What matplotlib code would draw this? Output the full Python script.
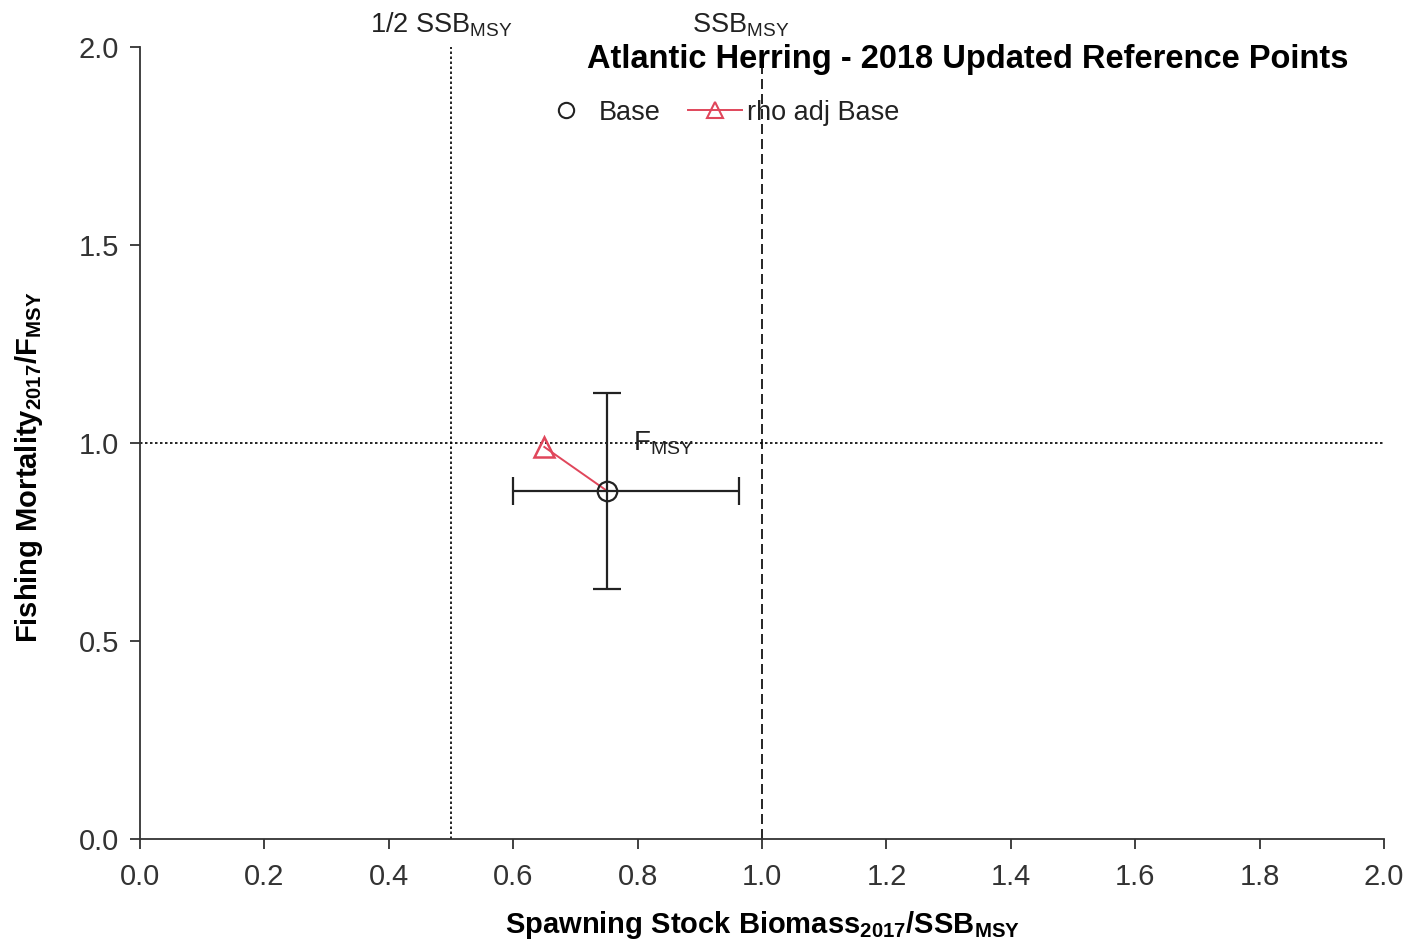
import matplotlib.pyplot as plt

plt.rcParams["font.family"] = ["Liberation Sans", "DejaVu Sans"]

# Base run, 2017 status with error bar extents
base_ssb = [0.75]
base_f = [0.88]
base_ssb_lo = [0.60]
base_ssb_hi = [0.963]
base_f_lo = [0.631]
base_f_hi = [1.126]

# rho adjusted base
rho_ssb = [0.65]
rho_f = [0.99]

ticks = [0.0, 0.2, 0.4, 0.6, 0.8, 1.0, 1.2, 1.4, 1.6, 1.8, 2.0]
yticks = [0.0, 0.5, 1.0, 1.5, 2.0]

RED = "#e0465b"
INK = "#222222"


def main():
    fig = plt.figure(figsize=(14.1, 9.44), dpi=100)
    ax = fig.add_axes([0.0993, 0.1112, 0.8823, 0.839])

    # reference lines
    ax.plot([0.5, 0.5], [0, 2.0], color="black", linestyle=(0, (1.5, 1.5)), lw=1.2)
    ax.plot([1.0, 1.0], [0, 1.97], color="black", linestyle=(0, (6, 3)), lw=1.2)
    ax.plot([0, 2.0], [1.0, 1.0], color="black", linestyle=(0, (1.5, 1.5)), lw=1.2)

    # line from base to rho adj
    ax.plot([base_ssb[0], rho_ssb[0]], [base_f[0], rho_f[0]], color=RED, lw=1.4)

    xerr = [[base_ssb[0] - base_ssb_lo[0]], [base_ssb_hi[0] - base_ssb[0]]]
    yerr = [[base_f[0] - base_f_lo[0]], [base_f_hi[0] - base_f[0]]]
    ax.errorbar(base_ssb, base_f, xerr=xerr, yerr=yerr, fmt="none",
                ecolor=INK, elinewidth=1.6, capsize=10, capthick=1.6)
    ax.plot(base_ssb, base_f, "o", ms=14, mfc="none", mec=INK, mew=1.6)
    ax.plot(rho_ssb, rho_f, "^", ms=15, mfc="none", mec=RED, mew=1.8)

    ax.set_xlim(0, 2.0)
    ax.set_ylim(0, 2.0)
    ax.set_xticks(ticks)
    ax.set_xticklabels([f"{t:.1f}" for t in ticks])
    ax.set_yticks(yticks)
    ax.set_yticklabels([f"{t:.1f}" for t in yticks])
    ax.spines["top"].set_visible(False)
    ax.spines["right"].set_visible(False)
    for s in ("left", "bottom"):
        ax.spines[s].set_linewidth(1.3)
        ax.spines[s].set_color("#333333")
    ax.tick_params(direction="out", length=7, width=1.3, labelsize=21,
                   colors="#333333", pad=8)
    ax.tick_params(axis="x", pad=10)

    ax.set_xlabel("Spawning Stock Biomass$_{\\mathregular{2017}}$/SSB$_{\\mathregular{MSY}}$",
                  fontsize=21, fontweight="bold")
    ax.xaxis.set_label_coords(0.5, -0.088)
    ax.set_ylabel("Fishing Mortality$_{\\mathregular{2017}}$/F$_{\\mathregular{MSY}}$",
                  fontsize=21, fontweight="bold")
    ax.yaxis.set_label_coords(-0.076, 0.47)

    ax.text(0.485, 2.0 + 0.02, "1/2 SSB$_{\\mathregular{MSY}}$", ha="center",
            va="bottom", fontsize=19.5, color=INK)
    ax.text(0.965, 2.0 + 0.02, "SSB$_{\\mathregular{MSY}}$", ha="center",
            va="bottom", fontsize=19.5, color=INK)
    ax.text(0.792, 1.0, "F$_{\\mathregular{MSY}}$", ha="left", va="center",
            fontsize=20, color=INK)
    ax.text(1.33, 1.968, "Atlantic Herring - 2018 Updated Reference Points",
            ha="center", va="center", fontsize=23.5, fontweight="bold")

    ax.legend(
        handles=[
            plt.Line2D([], [], marker="o", ls="none", ms=11, mfc="none",
                       mec=INK, mew=1.5, label="Base"),
            plt.Line2D([], [], marker="^", color=RED, ms=12, mfc="none",
                       mec=RED, mew=1.5, lw=1.4, label="rho adj Base"),
        ],
        loc="center left", bbox_to_anchor=(0.3207, 0.917), ncol=2, frameon=False,
        fontsize=19.5, handlelength=2.0, columnspacing=1.0, handletextpad=0.2,
        borderpad=0, borderaxespad=0, labelcolor=INK,
    )

    fig.savefig("out.png", dpi=100)


if __name__ == "__main__":
    main()
